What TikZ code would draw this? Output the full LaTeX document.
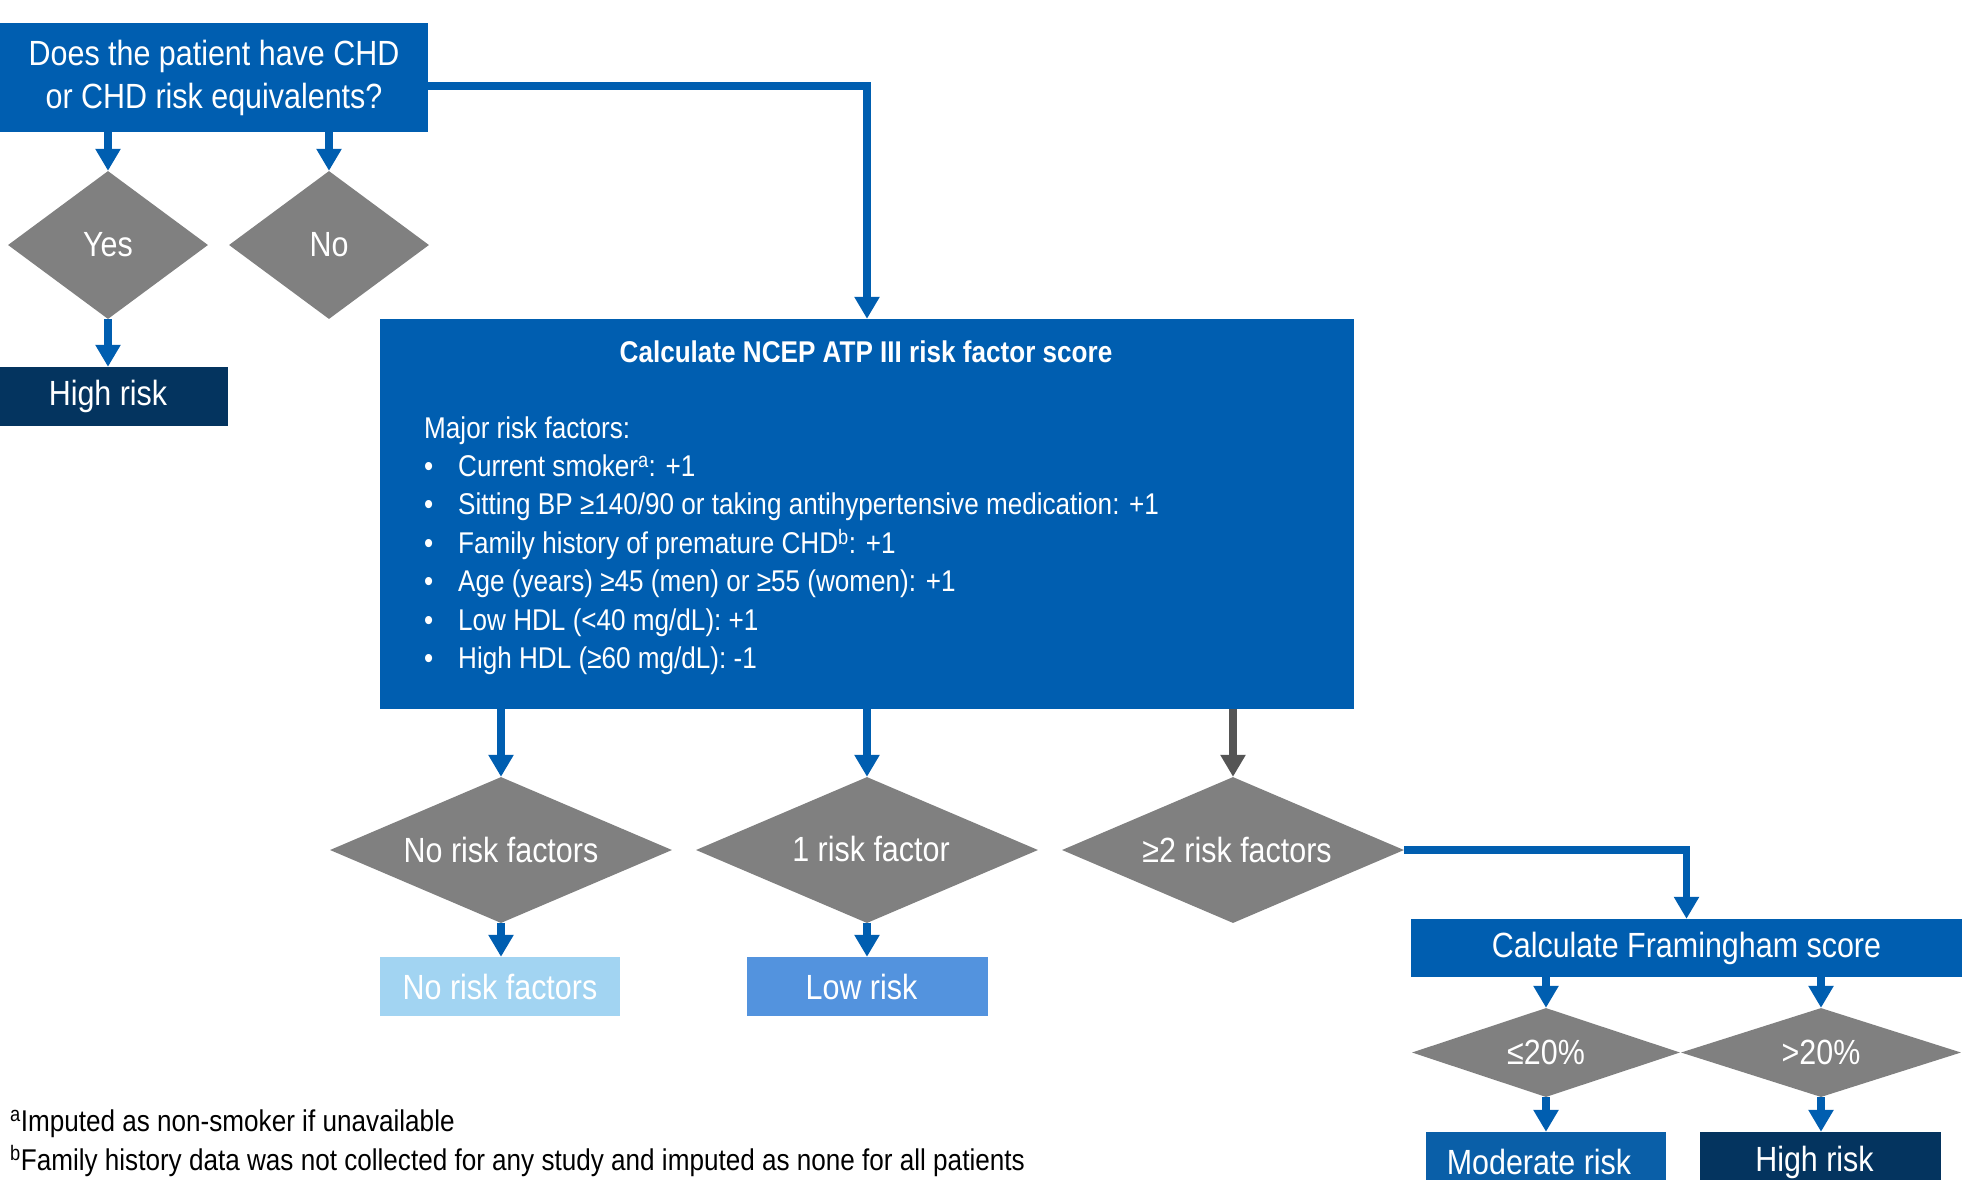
\documentclass[tikz,border=0pt]{standalone}
\usepackage{fontspec}
\setmainfont{Liberation Sans}[FakeStretch=0.87]
\usetikzlibrary{shapes.geometric,arrows.meta}
\definecolor{mainblue}{HTML}{005EB0}
\definecolor{navy}{HTML}{04345F}
\definecolor{diagray}{HTML}{808080}
\definecolor{arrgray}{HTML}{555555}
\definecolor{lightblue}{HTML}{A2D4F2}
\definecolor{lowblue}{HTML}{5393DE}
\definecolor{modblue}{HTML}{0A5FA8}
\begin{document}
\begin{tikzpicture}[x=1pt,y=-1pt,
  box/.style={draw=none, fill=mainblue, text=white, inner sep=0pt, font=\fontsize{35}{43}\selectfont, align=center},
  dia/.style={shape=diamond, fill=diagray, text=white, inner sep=0pt, font=\fontsize{35}{40}\selectfont},
  arr/.style={line width=7.5pt, draw=mainblue, -{Triangle[width=24pt,length=22pt]}},
  body/.style={text=white, inner sep=0pt, font=\fontsize{30}{38}\selectfont, anchor=base west},
  foot/.style={text=black, inner sep=0pt, font=\fontsize{30}{38}\selectfont, anchor=base west}
]
\useasboundingbox (0,0) rectangle (1979,1179);
\clip (0,0) rectangle (1979,1179);
\fill[white] (0,0) rectangle (1979,1179);

% top question
\node[box, minimum width=428pt, minimum height=109pt] (q) at (214,77.5) {Does the patient have CHD\\or CHD risk equivalents?};
\node[dia, shape aspect=1.35, minimum width=200pt, minimum height=148pt] (yes) at (108,245) {Yes};
\node[dia, shape aspect=1.35, minimum width=200pt, minimum height=148pt] (no) at (329,245) {No};
\node[box, fill=navy, minimum width=228pt, minimum height=59pt] (hr1) at (114,396.5) {\hspace{-12pt}High risk};

% main box
\node[box, minimum width=974pt, minimum height=390pt] (main) at (867,514) {};
\node[text=white, inner sep=0pt, font=\bfseries\fontsize{30}{35}\selectfont, anchor=base] (title) at (866,362) {Calculate NCEP ATP III risk factor score};
\node[body] (f0) at (424,438) {Major risk factors:};
\node[body] (f1) at (424,476.4) {\makebox[34pt][l]{\textbullet}Current smoker\textsuperscript{a}: +1};
\node[body] (f2) at (424,514.8) {\makebox[34pt][l]{\textbullet}Sitting BP ≥140/90 or taking antihypertensive medication: +1};
\node[body] (f3) at (424,553.2) {\makebox[34pt][l]{\textbullet}Family history of premature CHD\textsuperscript{b}: +1};
\node[body] (f4) at (424,591.6) {\makebox[34pt][l]{\textbullet}Age (years) ≥45 (men) or ≥55 (women): +1};
\node[body] (f5) at (424,630) {\makebox[34pt][l]{\textbullet}Low HDL (<40 mg/dL): +1};
\node[body] (f6) at (424,668.4) {\makebox[34pt][l]{\textbullet}High HDL (≥60 mg/dL): -1};

% second row diamonds
\node[dia, shape aspect=2.34, minimum width=342pt, minimum height=146pt] (d1) at (501,850) {No risk factors};
\node[dia, shape aspect=2.34, minimum width=342pt, minimum height=146pt] (d2) at (867,850) {\raisebox{2pt}{\hspace{8pt}1 risk factor}};
\node[dia, shape aspect=2.34, minimum width=342pt, minimum height=146pt] (d3) at (1233,850) {\hspace{8pt}≥2 risk factors};

\node[box, fill=lightblue, minimum width=240pt, minimum height=59pt] (b1) at (500,986.5) {No risk factors};
\node[box, fill=lowblue, minimum width=241pt, minimum height=59pt] (b2) at (867.5,986.5) {\raisebox{-5pt}{\hspace{-12pt}Low risk}};

% Framingham
\node[box, minimum width=551pt, minimum height=58pt] (fr) at (1686.5,948) {Calculate Framingham score};
\node[dia, shape aspect=3, minimum width=268pt, minimum height=89pt] (p1) at (1546,1052.5) {≤20\%};
\node[dia, shape aspect=3, minimum width=280pt, minimum height=89pt] (p2) at (1821,1052.5) {>20\%};
\node[box, fill=modblue, minimum width=240pt, minimum height=60pt] (mod) at (1546,1162) {\hspace{-14pt}Moderate risk};
\node[box, fill=navy, minimum width=241pt, minimum height=60pt] (hr2) at (1820.5,1162) {\hspace{-12pt}High risk};

% connectors
\draw[arr] ([yshift=-8.5pt]q.east) -| (main.north);
\draw[arr] (q.south -| yes.north) -- (yes.north);
\draw[arr] (q.south -| no.north) -- (no.north);
\draw[arr] (yes.south) -- (yes.south |- hr1.north);
\draw[arr] (main.south -| d1.north) -- (d1.north);
\draw[arr] (main.south -| d2.north) -- (d2.north);
\draw[arr, draw=arrgray] (main.south -| d3.north) -- (d3.north);
\draw[arr] (d1.south) -- (d1.south |- b1.north);
\draw[arr] (d2.south) -- (d2.south |- b2.north);
\draw[arr] (d3.east) -| (fr.north);
\draw[arr] (fr.south -| p1.north) -- (p1.north);
\draw[arr] (fr.south -| p2.north) -- (p2.north);
\draw[arr] (p1.south) -- (p1.south |- mod.north);
\draw[arr] (p2.south) -- (p2.south |- hr2.north);

% footnotes
\node[foot] (fn1) at (10,1131) {\textsuperscript{a}Imputed as non-smoker if unavailable};
\node[foot] (fn2) at (10,1170) {\textsuperscript{b}Family history data was not collected for any study and imputed as none for all patients};
\end{tikzpicture}
\end{document}
